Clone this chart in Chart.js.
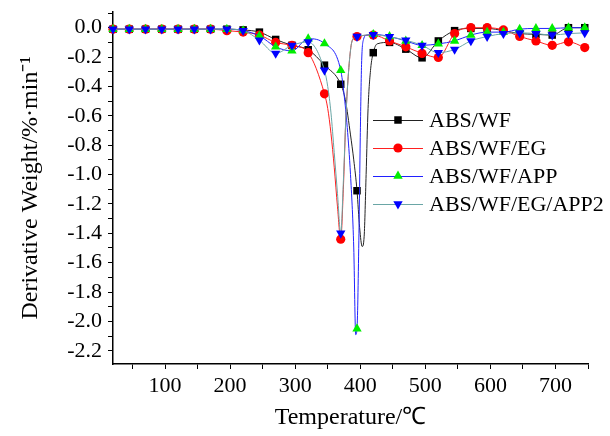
<!DOCTYPE html>
<html>
<head>
<meta charset="utf-8">
<script src="https://cdn.jsdelivr.net/npm/chart.js@4/dist/chart.umd.min.js"></script>
<style>
html,body{margin:0;padding:0;background:#fff;}
#wrap{width:610px;height:436px;}
</style>
</head>
<body>
<div id="wrap"><canvas id="c" width="610" height="436"></canvas></div>
<script>
// ---- data (temperature in °C, derivative weight in %/min) ----
const seriesNames = ["ABS/WF", "ABS/WF/EG", "ABS/WF/APP", "ABS/WF/EG/APP2"];
const markerTemps = [20,45,70,95,120,145,170,195,220,245,270,295,320,345,370,395,420,445,470,495,520,545,570,595,620,645,670,695,720,745];

const absWfTemp  = [20,45,70,95,120,145,170,195,220,245,270,295,320,345,370,377,385,390,395,399,403,406,409,412,416,420,426,445,470,495,520,545,570,595,620,645,670,695,720,745];
const absWfDeriv = [-0.01,-0.01,-0.01,-0.01,-0.01,-0.01,-0.01,-0.01,-0.015,-0.03,-0.08,-0.12,-0.15,-0.255,-0.385,-0.49,-0.73,-0.9,-1.11,-1.36,-1.49,-1.42,-1.0,-0.55,-0.28,-0.17,-0.11,-0.10,-0.146,-0.205,-0.09,-0.02,-0.005,-0.005,-0.02,-0.04,-0.045,-0.05,0.0,0.0];

const egTemp  = [20,45,70,95,120,145,170,195,220,245,270,295,320,345,350,355,360,365,370,374,378,382,386,390,395,420,445,470,495,520,545,570,595,620,645,670,695,720,745];
const egDeriv = [-0.01,-0.01,-0.01,-0.01,-0.01,-0.01,-0.01,-0.02,-0.03,-0.05,-0.10,-0.12,-0.17,-0.45,-0.55,-0.72,-0.95,-1.22,-1.44,-1.1,-0.6,-0.3,-0.12,-0.07,-0.06,-0.05,-0.09,-0.13,-0.175,-0.203,-0.04,0.0,0.0,-0.015,-0.06,-0.09,-0.12,-0.096,-0.135];

const appTemp  = [20,45,70,95,120,145,170,195,220,245,270,295,320,345,370,375,380,385,390,393,395,398,400,402,405,410,420,445,470,495,520,545,570,595,620,645,670,695,720,745];
const appDeriv = [-0.01,-0.01,-0.01,-0.01,-0.01,-0.01,-0.01,-0.01,-0.02,-0.055,-0.13,-0.158,-0.075,-0.108,-0.29,-0.45,-0.68,-1.0,-1.5,-2.09,-2.05,-1.4,-0.75,-0.25,-0.08,-0.05,-0.045,-0.06,-0.09,-0.12,-0.11,-0.09,-0.05,-0.03,-0.03,-0.01,-0.005,-0.005,0.0,0.0];

const app2Temp  = [20,45,70,95,120,145,170,195,220,245,270,295,320,345,350,355,360,365,370,374,378,382,386,390,395,420,445,470,495,520,545,570,595,620,645,670,695,720,745];
const app2Deriv = [-0.01,-0.01,-0.01,-0.01,-0.01,-0.01,-0.01,-0.01,-0.02,-0.085,-0.175,-0.12,-0.097,-0.29,-0.4,-0.58,-0.85,-1.13,-1.40,-1.05,-0.6,-0.3,-0.12,-0.07,-0.06,-0.047,-0.062,-0.085,-0.12,-0.17,-0.148,-0.09,-0.06,-0.04,-0.035,-0.04,-0.05,-0.04,-0.035];

// ticks
const xTickValues = [50,100,150,200,250,300,350,400,450,500,550,600,650,700,750];
const xTickLabels = ["","100","","200","","300","","400","","500","","600","","700",""];
const yTickValues = [0.1,0.0,-0.1,-0.2,-0.3,-0.4,-0.5,-0.6,-0.7,-0.8,-0.9,-1.0,-1.1,-1.2,-1.3,-1.4,-1.5,-1.6,-1.7,-1.8,-1.9,-2.0,-2.1,-2.2];
const yTickLabels = ["","0.0","","-0.2","","-0.4","","-0.6","","-0.8","","-1.0","","-1.2","","-1.4","","-1.6","","-1.8","","-2.0","","-2.2"];

// ---- build ----
const toPts = (t, v) => t.map((x, i) => ({x: x, y: v[i]}));
const markerSet = new Set(markerTemps);
const FONT = "'Liberation Serif', 'Times New Roman', serif";

function mkDs(label, t, v, line, fill, style, rot, r, order) {
  return {
    label, data: toPts(t, v), borderColor: line, borderWidth: 1,
    backgroundColor: fill, pointBackgroundColor: fill, pointBorderColor: fill,
    pointBorderWidth: 0, pointStyle: style, pointRotation: rot,
    pointRadius: ctx => (ctx.raw && markerSet.has(ctx.raw.x)) ? r : 0,
    pointHoverRadius: ctx => (ctx.raw && markerSet.has(ctx.raw.x)) ? r : 0,
    cubicInterpolationMode: 'monotone', fill: false, clip: 10, order
  };
}

const datasets = [
  mkDs(seriesNames[0], absWfTemp, absWfDeriv, '#222222', '#000000', 'rect', 0, 5.3, 4),
  mkDs(seriesNames[1], egTemp, egDeriv, '#ff2020', '#ff0000', 'circle', 0, 4.6, 3),
  mkDs(seriesNames[2], appTemp, appDeriv, '#2020ff', '#00ee00', 'triangle', 0, 5.4, 2),
  mkDs(seriesNames[3], app2Temp, app2Deriv, '#6aa6a6', '#0000ff', 'triangle', 180, 5.4, 1)
];

function drawMarker(ctx, style, rot, r, x, y, color) {
  ctx.save();
  ctx.fillStyle = color;
  ctx.beginPath();
  if (style === 'rect') {
    const s = Math.SQRT1_2 * r;
    ctx.rect(x - s, y - s, 2 * s, 2 * s);
  } else if (style === 'circle') {
    ctx.arc(x, y, r, 0, Math.PI * 2);
  } else {
    let a = rot * Math.PI / 180 - Math.PI / 2;
    for (let k = 0; k < 3; k++) {
      const px = x + Math.cos(a) * r, py = y + Math.sin(a) * r;
      if (k === 0) ctx.moveTo(px, py); else ctx.lineTo(px, py);
      a += 2 * Math.PI / 3;
    }
    ctx.closePath();
  }
  ctx.fill();
  ctx.restore();
}

const legendPlugin = {
  id: 'innerLegend',
  afterDraw(chart) {
    const ctx = chart.ctx;
    const x0 = 373, x1 = 423, xm = 398, xt = 429;
    const rows = [120, 148, 176, 204];
    chart.data.datasets.forEach((ds, i) => {
      const y = rows[i];
      ctx.save();
      ctx.strokeStyle = ds.borderColor;
      ctx.lineWidth = 1;
      ctx.beginPath(); ctx.moveTo(x0, y + 0.5); ctx.lineTo(x1, y + 0.5); ctx.stroke();
      const r = [5.3, 4.6, 5.4, 5.4][i];
      drawMarker(ctx, ds.pointStyle, ds.pointRotation, r, xm, y, ds.pointBackgroundColor);
      ctx.fillStyle = '#000';
      ctx.font = "22px " + FONT;
      ctx.textBaseline = 'middle';
      ctx.textAlign = 'left';
      ctx.fillText(ds.label, xt, y + 1);
      ctx.restore();
    });
  }
};

new Chart(document.getElementById('c'), {
  type: 'line',
  data: { datasets },
  options: {
    responsive: false, animation: false, devicePixelRatio: 1,
    layout: { padding: { left: 12, right: 22, top: 12, bottom: 0 } },
    plugins: { legend: { display: false }, tooltip: { enabled: false } },
    scales: {
      x: {
        type: 'linear', min: 20, max: 750,
        afterFit: s => { s.height = 72; s.paddingLeft = 0; s.paddingRight = 0; },
        afterBuildTicks: s => { s.ticks = xTickValues.map(v => ({value: v})); },
        ticks: {
          autoSkip: false, maxRotation: 0, padding: 4, color: '#000',
          font: { family: FONT, size: 22 },
          callback: (v) => { const i = xTickValues.indexOf(v); return i >= 0 ? xTickLabels[i] : ''; }
        },
        grid: { drawOnChartArea: false, drawTicks: true, tickLength: 5, tickColor: '#000', tickWidth: 1 },
        border: { display: true, color: '#000', width: 1.5 },
        title: { display: true, text: 'Temperature/℃', color: '#000', font: { family: FONT, size: 24 }, padding: { top: 0, bottom: 4 } }
      },
      y: {
        type: 'linear', min: -2.29, max: 0.107,
        afterFit: s => { s.width = 101; s.paddingTop = 0; s.paddingBottom = 0; },
        afterBuildTicks: s => { s.ticks = yTickValues.map(v => ({value: v})); },
        ticks: {
          autoSkip: false, padding: 6, color: '#000',
          font: { family: FONT, size: 22 },
          callback: (v) => { const i = yTickValues.findIndex(t => Math.abs(t - v) < 1e-6); return i >= 0 ? yTickLabels[i] : ''; }
        },
        grid: { drawOnChartArea: false, drawTicks: true, tickLength: 5, tickColor: '#000', tickWidth: 1 },
        border: { display: true, color: '#000', width: 1.5 },
        title: { display: true, text: 'Derivative Weight/%·min⁻¹', color: '#000', font: { family: FONT, size: 24 }, padding: { top: 4, bottom: 0 } }
      }
    }
  },
  plugins: [legendPlugin]
});
</script>
</body>
</html>
